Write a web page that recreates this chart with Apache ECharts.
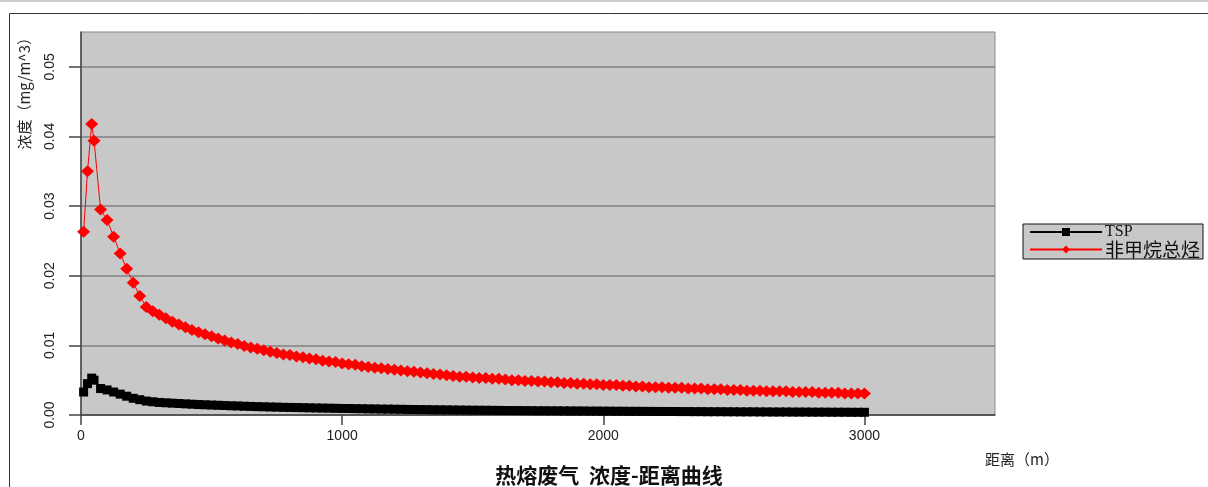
<!DOCTYPE html>
<html>
<head>
<meta charset="utf-8">
<script src="https://cdn.jsdelivr.net/npm/echarts@6/dist/echarts.min.js"></script>
<style>
  html, body { margin: 0; padding: 0; background: #ffffff; }
  #chart { width: 1208px; height: 487px; }
</style>
</head>
<body>
<div id="chart"></div>
<script>
// Downwind distance (m) of each receptor
const distances = [
  10, 25, 41, 50, 75, 100, 125, 150, 175, 200,
  225, 250, 275, 300, 325, 350, 375, 400, 425, 450,
  475, 500, 525, 550, 575, 600, 625, 650, 675, 700,
  725, 750, 775, 800, 825, 850, 875, 900, 925, 950,
  975, 1000, 1025, 1050, 1075, 1100, 1125, 1150, 1175, 1200,
  1225, 1250, 1275, 1300, 1325, 1350, 1375, 1400, 1425, 1450,
  1475, 1500, 1525, 1550, 1575, 1600, 1625, 1650, 1675, 1700,
  1725, 1750, 1775, 1800, 1825, 1850, 1875, 1900, 1925, 1950,
  1975, 2000, 2025, 2050, 2075, 2100, 2125, 2150, 2175, 2200,
  2225, 2250, 2275, 2300, 2325, 2350, 2375, 2400, 2425, 2450,
  2475, 2500, 2525, 2550, 2575, 2600, 2625, 2650, 2675, 2700,
  2725, 2750, 2775, 2800, 2825, 2850, 2875, 2900, 2925, 2950,
  2975, 3000
];

// TSP concentration (mg/m^3)
const tspValues = [
  0.0033, 0.0045, 0.0053, 0.0050, 0.0038, 0.0036, 0.0033, 0.0030, 0.0027, 0.0024,
  0.0022, 0.0020, 0.0019, 0.0018, 0.00175, 0.0017, 0.00165, 0.0016, 0.00155, 0.0015,
  0.00147, 0.00143, 0.0014, 0.00136, 0.00132, 0.0013, 0.00126, 0.00123, 0.0012, 0.00118,
  0.00115, 0.00113, 0.0011, 0.00109, 0.00107, 0.00105, 0.00103, 0.00101, 0.00099, 0.00098,
  0.00096, 0.00094, 0.00093, 0.00091, 0.0009, 0.00088, 0.00087, 0.00085, 0.00084, 0.00083,
  0.00082, 0.0008, 0.00079, 0.00078, 0.00077, 0.00075, 0.00074, 0.00073, 0.00072, 0.00071,
  0.0007, 0.00069, 0.00068, 0.00068, 0.00067, 0.00066, 0.00065, 0.00064, 0.00064, 0.00063,
  0.00062, 0.00061, 0.00061, 0.0006, 0.0006, 0.00059, 0.00058, 0.00058, 0.00057, 0.00056,
  0.00056, 0.00055, 0.00055, 0.00054, 0.00054, 0.00053, 0.00053, 0.00052, 0.00052, 0.00051,
  0.00051, 0.0005, 0.0005, 0.00049, 0.00049, 0.00048, 0.00048, 0.00047, 0.00047, 0.00047,
  0.00046, 0.00046, 0.00045, 0.00045, 0.00045, 0.00044, 0.00044, 0.00043, 0.00043, 0.00043,
  0.00042, 0.00042, 0.00042, 0.00041, 0.00041, 0.00041, 0.0004, 0.0004, 0.0004, 0.00039,
  0.00039, 0.00039
];

// Non-methane total hydrocarbons concentration (mg/m^3)
const nmhcValues = [
  0.0263, 0.0350, 0.0418, 0.0394, 0.0295, 0.0280, 0.0256, 0.0232, 0.0210, 0.0190,
  0.0171, 0.0155, 0.0149, 0.0144, 0.0139, 0.0134, 0.0130, 0.0126, 0.0122, 0.0119,
  0.0116, 0.0113, 0.0110, 0.0107, 0.0104, 0.0102, 0.0099, 0.0097, 0.0095, 0.0093,
  0.0091, 0.0089, 0.0087, 0.0086, 0.0084, 0.0083, 0.0081, 0.0080, 0.0078, 0.0077,
  0.0076, 0.0074, 0.0073, 0.0072, 0.0070, 0.0069, 0.0068, 0.0067, 0.0066, 0.0065,
  0.0064, 0.0063, 0.0062, 0.0061, 0.0060, 0.0059, 0.0058, 0.0057, 0.0056, 0.0055,
  0.0055, 0.0054, 0.0053, 0.0053, 0.0052, 0.0052, 0.0051, 0.0050, 0.0050, 0.0049,
  0.0049, 0.0048, 0.0048, 0.0047, 0.0047, 0.0046, 0.0046, 0.0045, 0.0045, 0.0044,
  0.0044, 0.0043, 0.0043, 0.0043, 0.0042, 0.0042, 0.0041, 0.0041, 0.0040, 0.0040,
  0.0040, 0.0039, 0.0039, 0.0039, 0.0038, 0.0038, 0.0038, 0.0037, 0.0037, 0.0037,
  0.0036, 0.0036, 0.0036, 0.0035, 0.0035, 0.0035, 0.0034, 0.0034, 0.0034, 0.0034,
  0.0033, 0.0033, 0.0033, 0.0033, 0.0032, 0.0032, 0.0032, 0.0032, 0.0031, 0.0031,
  0.0031, 0.0031
];

const seriesNames = ['TSP', '非甲烷总烃'];
const xTicks = [0, 1000, 2000, 3000];
const yTicks = [0, 0.01, 0.02, 0.03, 0.04, 0.05];

const pairs = (vals) => distances.map((d, i) => [d, vals[i]]);

const chart = echarts.init(document.getElementById('chart'), null, { renderer: 'canvas' });

const tickFont = { fontFamily: 'Liberation Sans, Arial, sans-serif', fontSize: 14, color: '#222' };

chart.setOption({
  animation: false,
  backgroundColor: '#ffffff',
  title: {
    text: '热熔废气  浓度-距离曲线',
    left: 604,
    top: 460,
    textAlign: 'center',
    textStyle: { fontFamily: 'Noto Sans CJK SC', fontSize: 21, fontWeight: 'bold', color: '#111' }
  },
  graphic: [
    { type: 'line', shape: { x1: 0, y1: 1, x2: 1208, y2: 1 }, style: { stroke: '#9a9a9a', lineWidth: 1 }, silent: true },
    { type: 'rect', shape: { x: 9.5, y: 13.5, width: 1220, height: 500 }, style: { fill: 'none', stroke: '#333', lineWidth: 1 }, silent: true },
    {
      type: 'text', x: 24, y: 30, rotation: Math.PI / 2, silent: true,
      style: {
        text: '浓度（mg/m^3）', align: 'right', verticalAlign: 'middle',
        fontFamily: 'Noto Sans CJK SC', fontSize: 15, fill: '#222'
      }
    },
    {
      type: 'text', x: 985, y: 459, silent: true,
      style: {
        text: '距离（m）', align: 'left', verticalAlign: 'middle',
        fontFamily: 'Noto Sans CJK SC', fontSize: 15, fill: '#222'
      }
    }
  ],
  legend: {
    orient: 'vertical',
    left: 1023,
    top: 224,
    padding: [0, 3, 0, 6],
    itemGap: 0,
    itemWidth: 72,
    itemHeight: 10,
    backgroundColor: '#c8c8c8',
    borderColor: '#111',
    borderWidth: 1,
    borderRadius: 0,
    formatter: (name) => (name === 'TSP' ? '{s|TSP}' : name),
    textStyle: {
      fontFamily: 'Noto Sans CJK SC', fontSize: 19, color: '#111', padding: [0, 0, 0, -2],
      rich: { s: { fontFamily: 'Liberation Serif, DejaVu Serif, serif', fontSize: 16, color: '#111' } }
    },
    data: seriesNames
  },
  grid: {
    left: 81, top: 32, width: 914, height: 383,
    show: true, backgroundColor: '#c8c8c8', borderColor: '#8a8a8a', borderWidth: 1,
    containLabel: false
  },
  xAxis: {
    type: 'value', min: 0, max: 3500, interval: 1000,
    axisLine: { show: true, onZero: false, lineStyle: { color: '#444', width: 1.5 } },
    axisTick: { show: true, length: 10, lineStyle: { color: '#444', width: 1.5 }, customValues: xTicks },
    axisLabel: Object.assign({ margin: 14, customValues: xTicks, formatter: (v) => String(v) }, tickFont),
    splitLine: { show: false }
  },
  yAxis: {
    type: 'value', min: 0, max: 0.055, interval: 0.01,
    axisLine: { show: true, lineStyle: { color: '#444', width: 1.5 } },
    axisTick: { show: true, length: 12, lineStyle: { color: '#444', width: 1.5 }, customValues: yTicks },
    axisLabel: Object.assign({
      rotate: 90, margin: 24, customValues: yTicks,
      formatter: (v) => v.toFixed(2)
    }, tickFont),
    splitLine: { show: true, lineStyle: { color: '#808080', width: 1.5 } }
  },
  series: [
    {
      name: seriesNames[0], type: 'line', data: pairs(tspValues),
      symbol: 'rect', symbolSize: 9, showAllSymbol: true,
      lineStyle: { color: '#000', width: 1 },
      itemStyle: { color: '#000' }, z: 3
    },
    {
      name: seriesNames[1], type: 'line', data: pairs(nmhcValues),
      symbol: 'diamond', symbolSize: [13, 12], showAllSymbol: true,
      lineStyle: { color: '#ff0000', width: 1 },
      itemStyle: { color: '#ff0000' }, z: 4
    }
  ]
});
</script>
</body>
</html>
